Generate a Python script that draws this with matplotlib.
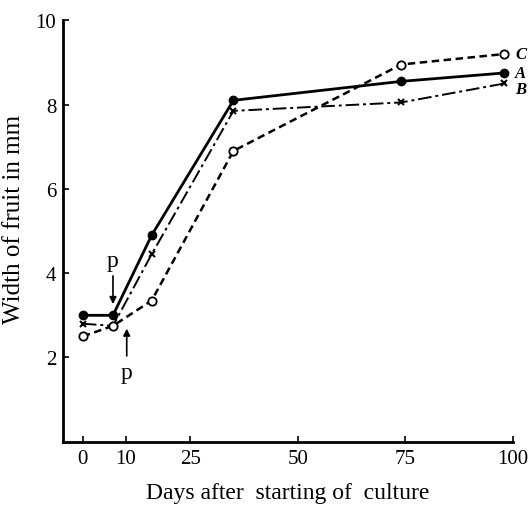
import matplotlib
matplotlib.use("Agg")
import matplotlib.pyplot as plt

plt.rcParams["font.family"] = ["Liberation Serif", "DejaVu Serif"]

days = [0, 7, 16, 35, 74, 98]
width_a = [3.0, 3.0, 4.9, 8.1, 8.55, 8.75]
width_b = [2.8, 2.75, 4.45, 7.85, 8.05, 8.5]
width_c = [2.5, 2.75, 3.35, 6.9, 8.95, 9.2]
series_names = ["A", "B", "C"]

xticks = [0, 10, 25, 50, 75, 100]
yticks = [2, 4, 6, 8, 10]

fig = plt.figure(figsize=(5.3, 5.06), dpi=100)
ax = fig.add_axes([0.119, 0.125, 0.849, 0.833])

ax.plot(days, width_a, color="black", lw=2.0, ls="-", marker="o", ms=6,
        mfc="black", mec="black")
ax.plot(days, width_b, color="black", lw=1.4, ls=(0, (7, 2, 1.5, 2)),
        marker="x", ms=5, mew=1.5)
ax.plot(days, width_c, color="black", lw=1.8, ls=(0, (3, 1.8)), marker="o",
        ms=6, mfc="white", mec="black", mew=1.3)

# series labels at the right end
offsets = {"A": 0.0, "B": -0.12, "C": 0.0}
for name, vals in zip(series_names, [width_a, width_b, width_c]):
    ax.text(days[-1] + 2.5, vals[-1] + offsets[name], name, fontsize=12,
            fontweight="bold", style="italic", va="center", ha="left",
            clip_on=False)

# pinching arrows
ax.annotate("", xy=(7, 3.2), xytext=(7, 4.0),
            arrowprops=dict(arrowstyle="-|>", color="black", lw=1.2,
                            mutation_scale=10))
ax.text(7, 4.3, "p", fontsize=17, ha="center", va="center")
ax.annotate("", xy=(10.2, 2.75), xytext=(10.2, 1.97),
            arrowprops=dict(arrowstyle="-|>", color="black", lw=1.2,
                            mutation_scale=10))
ax.text(10.2, 1.65, "p", fontsize=17, ha="center", va="center")

ax.set_xlim(-4.6, 100)
ax.set_ylim(0, 10)
ax.set_xticks(xticks)
ax.set_yticks(yticks)
ax.tick_params(direction="in", length=4, width=1.2, labelsize=15, pad=5)
for side in ["top", "right"]:
    ax.spines[side].set_visible(False)
for side in ["left", "bottom"]:
    ax.spines[side].set_linewidth(2.0)

ax.set_xlabel("Days after  starting of  culture", fontsize=17, labelpad=10)
ax.set_ylabel("Width of fruit in mm", fontsize=18, labelpad=8)
ax.yaxis.set_label_coords(-0.085, 0.53)

fig.savefig("out.png", dpi=100)
